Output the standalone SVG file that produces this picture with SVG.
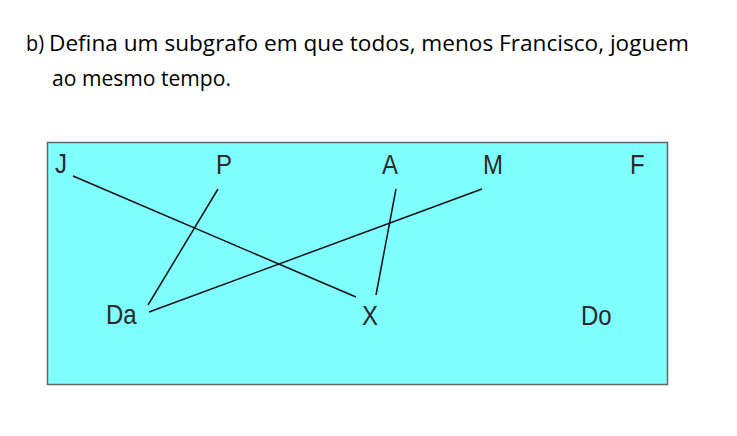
<svg xmlns="http://www.w3.org/2000/svg" width="737" height="436" viewBox="0 0 737 436">
<style>
.title{font-family:"Open Sans","Liberation Sans",sans-serif;font-size:22px;fill:#000}
.lbl{font-family:"Liberation Sans",Arial,sans-serif;font-size:24px;fill:#2a2a2a}
.edge{stroke:#111;stroke-width:1.5;fill:none}
</style>
<rect width="737" height="436" fill="#fff"/>
<text class="title" x="26" y="51" textLength="18" lengthAdjust="spacingAndGlyphs">b)</text>
<text class="title" x="49" y="51" textLength="640" lengthAdjust="spacingAndGlyphs">Defina um subgrafo em que todos, menos Francisco, joguem</text>
<text class="title" x="52" y="86" textLength="179" lengthAdjust="spacingAndGlyphs">ao mesmo tempo.</text>
<rect x="47.5" y="142.5" width="620" height="242" fill="#80FFFF" stroke="#666" stroke-width="1.5"/>
<g id="connectors">
<line class="edge" x1="73" y1="176" x2="356" y2="297"/>
<line class="edge" x1="218" y1="189" x2="148" y2="305"/>
<line class="edge" x1="149" y1="312" x2="482" y2="189"/>
<line class="edge" x1="396" y1="189" x2="376" y2="295"/>
</g>
<g id="J"><text class="lbl" transform="translate(55,173) scale(1,1.12)">J</text></g>
<g id="P"><text class="lbl" transform="translate(216,174) scale(1,1.12)">P</text></g>
<g id="A"><text class="lbl" transform="translate(382,174) scale(1,1.12)">A</text></g>
<g id="M"><text class="lbl" transform="translate(483,174) scale(1,1.12)">M</text></g>
<g id="F"><text class="lbl" transform="translate(630,174) scale(1,1.12)">F</text></g>
<g id="Da"><text class="lbl" transform="translate(106,324) scale(1,1.12)">Da</text></g>
<g id="X"><text class="lbl" transform="translate(362,325) scale(1,1.12)">X</text></g>
<g id="Do"><text class="lbl" transform="translate(581,325) scale(1,1.12)">Do</text></g>
</svg>
